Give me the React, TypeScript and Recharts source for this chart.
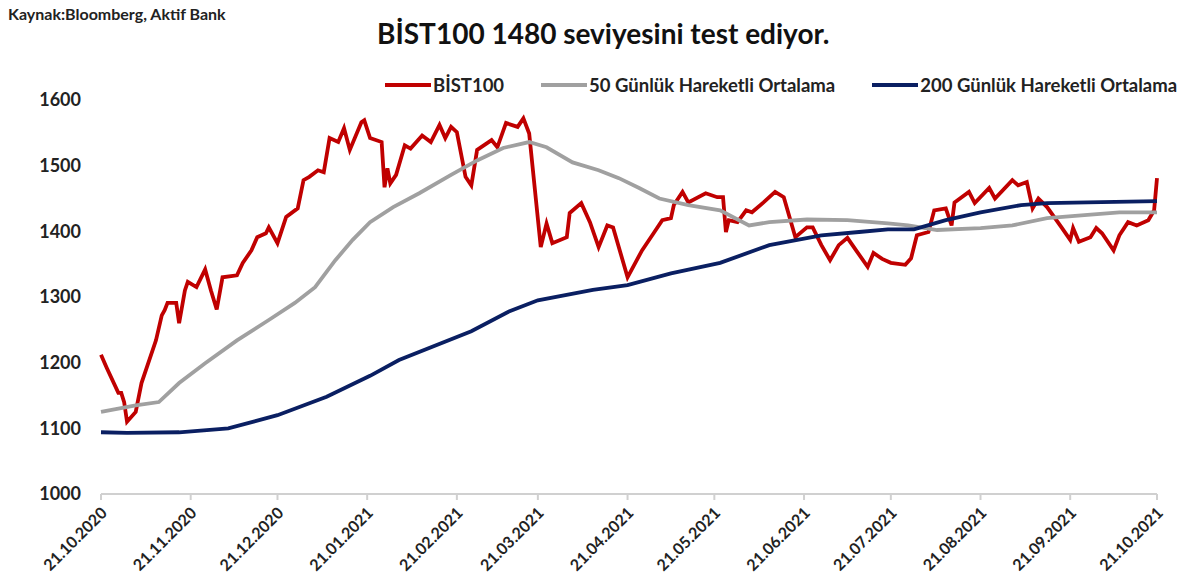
import { LineChart, Line, XAxis, YAxis } from 'recharts';

// day offsets from 21.10.2020
const bistDays = [0, 2, 6, 7, 8, 9, 12, 14, 19, 21, 22, 23, 26, 27, 29, 30, 33, 36, 38, 40, 42, 47, 49, 52, 54, 57, 58, 61, 64, 68, 70, 72, 75, 77, 79, 82, 84, 86, 90, 91, 93, 97, 98, 99, 100, 102, 105, 107, 111, 114, 117, 119, 121, 123, 126, 128, 130, 135, 137, 140, 144, 146, 148, 152, 154, 156, 161, 162, 166, 169, 172, 175, 177, 182, 187, 191, 194, 197, 198, 201, 203, 209, 213, 215, 216, 217, 220, 223, 225, 229, 233, 236, 240, 244, 246, 249, 252, 255, 258, 261, 265, 267, 270, 273, 278, 280, 282, 286, 288, 292, 294, 295, 300, 302, 307, 309, 315, 317, 320, 322, 324, 327, 332, 335, 336, 338, 342, 344, 346, 350, 352, 355, 358, 362, 364, 365];
const bistValues = [1212, 1192, 1154, 1154, 1140, 1110, 1125, 1169, 1234, 1272, 1280, 1291, 1291, 1260, 1310, 1323, 1315, 1342, 1310, 1281, 1330, 1333, 1352, 1371, 1391, 1397, 1406, 1382, 1422, 1435, 1478, 1483, 1493, 1490, 1542, 1536, 1557, 1524, 1566, 1569, 1542, 1536, 1467, 1496, 1473, 1486, 1531, 1526, 1546, 1536, 1562, 1542, 1559, 1551, 1483, 1470, 1524, 1539, 1528, 1565, 1559, 1572, 1549, 1376, 1412, 1382, 1391, 1428, 1443, 1414, 1376, 1409, 1406, 1330, 1371, 1397, 1417, 1420, 1440, 1460, 1444, 1458, 1452, 1452, 1399, 1417, 1414, 1432, 1429, 1444, 1460, 1452, 1391, 1406, 1406, 1379, 1356, 1379, 1390, 1371, 1346, 1367, 1358, 1352, 1349, 1359, 1394, 1399, 1432, 1435, 1409, 1444, 1460, 1443, 1466, 1450, 1478, 1470, 1475, 1435, 1450, 1437, 1406, 1387, 1405, 1384, 1391, 1405, 1397, 1371, 1394, 1414, 1409, 1417, 1432, 1481];

const ma50Days = [0, 12, 20, 27, 36, 47, 58, 67, 74, 81, 87, 93, 101, 110, 121, 130, 139, 148, 154, 163, 172, 179, 186, 193, 203, 214, 224, 231, 244, 258, 272, 279, 289, 304, 315, 327, 341, 352, 365];
const ma50Values = [1125, 1135, 1140, 1169, 1199, 1234, 1265, 1291, 1315, 1356, 1387, 1414, 1437, 1458, 1486, 1508, 1527, 1536, 1528, 1505, 1493, 1481, 1466, 1450, 1440, 1432, 1409, 1414, 1418, 1417, 1412, 1409, 1402, 1405, 1409, 1420, 1425, 1429, 1429];

const ma200Days = [0, 9, 27, 44, 61, 78, 93, 103, 128, 141, 151, 170, 182, 197, 214, 231, 249, 262, 272, 281, 292, 304, 318, 327, 341, 365];
const ma200Values = [1094, 1093, 1094, 1100, 1120, 1148, 1180, 1204, 1248, 1278, 1295, 1311, 1318, 1336, 1352, 1379, 1394, 1399, 1403, 1403, 1417, 1429, 1440, 1443, 1444, 1446];

const tickDates = ['21.10.2020', '21.11.2020', '21.12.2020', '21.01.2021', '21.02.2021', '21.03.2021', '21.04.2021', '21.05.2021', '21.06.2021', '21.07.2021', '21.08.2021', '21.09.2021', '21.10.2021'];
const yTicks = [1000, 1100, 1200, 1300, 1400, 1500, 1600];

const seriesNames = ['BİST100', '50 Günlük Hareketli Ortalama', '200 Günlük Hareketli Ortalama'];

const toDay = (s: string) => {
  const [d, m, y] = s.split('.').map(Number);
  return Math.round((Date.UTC(y, m - 1, d) - Date.UTC(2020, 9, 21)) / 86400000);
};
const xTicks = tickDates.map(toDay);
const labelFor = (day: number) => tickDates[xTicks.indexOf(day)] ?? '';

const zip = (days: number[], values: number[]) => days.map((day, i) => ({ day, value: values[i] }));
const bistData = zip(bistDays, bistValues);
const ma50Data = zip(ma50Days, ma50Values);
const ma200Data = zip(ma200Days, ma200Values);

const FONT = 'Lato, "Open Sans", sans-serif';
const RED = '#c00000';
const GRAY = '#a0a0a0';
const NAVY = '#0a1f62';
const colors = [RED, GRAY, NAVY];

function DateTick({ x, y, payload }: any) {
  const tx = x + 7;
  const ty = y + 12;
  return (
    <text
      x={tx}
      y={ty}
      transform={`rotate(-45, ${tx}, ${ty})`}
      textAnchor="end"
      fontSize={16}
      fontWeight={700}
      fill="#222"
      fontFamily={FONT}
    >
      {labelFor(payload.value)}
    </text>
  );
}

function ChartLegend() {
  return (
    <div
      style={{
        position: 'absolute',
        left: 385,
        top: 74,
        display: 'flex',
        alignItems: 'center',
        fontFamily: FONT,
        fontWeight: 700,
        fontSize: 18.5,
        color: '#222',
        whiteSpace: 'nowrap',
      }}
    >
      {seriesNames.map((name, i) => (
        <div key={name} style={{ display: 'flex', alignItems: 'center', marginRight: 37 }}>
          <div style={{ width: 46, height: 4, background: colors[i], marginRight: 2 }} />
          <span>{name}</span>
        </div>
      ))}
    </div>
  );
}

export default function App() {
  return (
    <div style={{ position: 'absolute', left: 0, top: 0, width: 1179, height: 584, background: '#fff' }}>
      <div style={{ position: 'absolute', left: 8, top: 4, fontFamily: FONT, fontWeight: 700, fontSize: 16, color: '#222' }}>
        Kaynak:Bloomberg, Aktif Bank
      </div>
      <div style={{ position: 'absolute', left: 377, top: 16, fontFamily: FONT, fontWeight: 700, fontSize: 28, color: '#111', whiteSpace: 'nowrap' }}>
        BİST100 1480 seviyesini test ediyor.
      </div>
      <ChartLegend />
      <LineChart width={1179} height={584} margin={{ top: 100, right: 22, bottom: 60, left: 41 }}>
        <XAxis
          type="number"
          dataKey="day"
          domain={[0, 365]}
          ticks={xTicks}
          interval={0}
          tick={<DateTick />}
          stroke="#d0d0d0"
          strokeWidth={2}
          tickSize={6}
          height={30}
          allowDuplicatedCategory={false}
        />
        <YAxis
          type="number"
          domain={[1000, 1600]}
          ticks={yTicks}
          axisLine={false}
          tickLine={false}
          tickMargin={14}
          width={60}
          tick={{ fontSize: 18, fontWeight: 700, fill: '#222', fontFamily: FONT }}
        />
        <Line data={bistData} dataKey="value" name={seriesNames[0]} stroke={RED} strokeWidth={3.8} dot={false} isAnimationActive={false} />
        <Line data={ma50Data} dataKey="value" name={seriesNames[1]} stroke={GRAY} strokeWidth={3.8} dot={false} isAnimationActive={false} />
        <Line data={ma200Data} dataKey="value" name={seriesNames[2]} stroke={NAVY} strokeWidth={3.8} dot={false} isAnimationActive={false} />
      </LineChart>
    </div>
  );
}
